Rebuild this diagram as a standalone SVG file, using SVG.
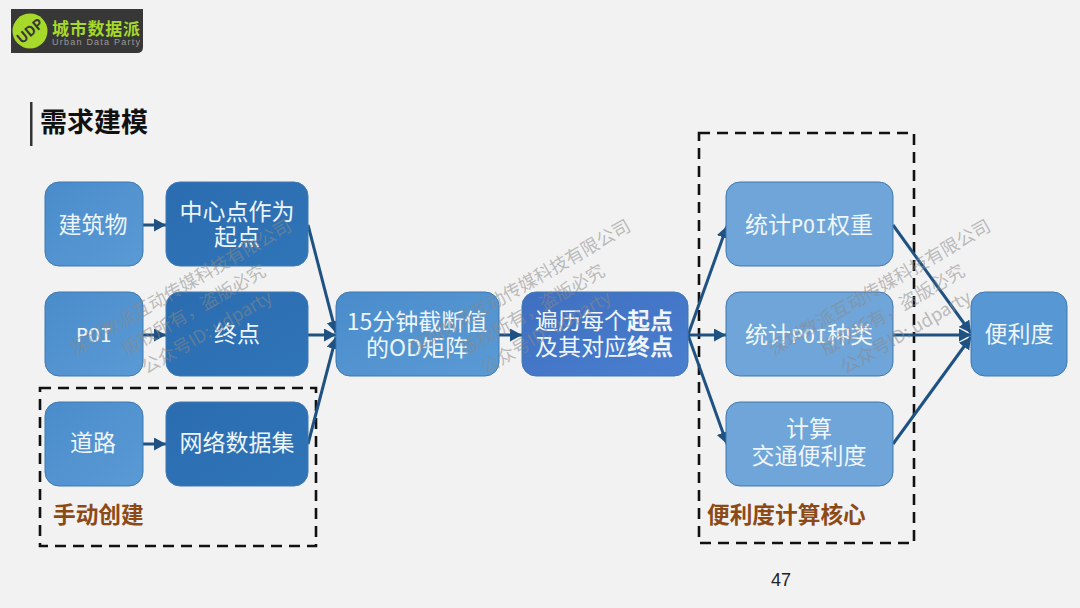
<svg xmlns="http://www.w3.org/2000/svg" width="1080" height="608" viewBox="0 0 1080 608">
<defs>
<linearGradient id="mid" x1="0" y1="0" x2="1" y2="1"><stop offset="0" stop-color="#4a8ccb"/><stop offset="1" stop-color="#5a9ad5"/></linearGradient>
<linearGradient id="dark" x1="0" y1="0" x2="1" y2="1"><stop offset="0" stop-color="#2b6cb0"/><stop offset="1" stop-color="#2f75b7"/></linearGradient>
<linearGradient id="royal" x1="0" y1="0" x2="1" y2="1"><stop offset="0" stop-color="#3f6fc0"/><stop offset="1" stop-color="#4a7fcf"/></linearGradient>
<marker id="arr" markerUnits="userSpaceOnUse" markerWidth="14" markerHeight="14" refX="12" refY="6.5" orient="auto"><path d="M0 0L12 6.5L0 13z" fill="#1f5282"/></marker>
<g id="wm" class="wm">
<text x="0" y="-20">深圳数派互动传媒科技有限公司</text>
<text x="0" y="6">版权所有，盗版必究</text>
<text x="0" y="32">公众号ID: udparty</text>
</g>
</defs>
<style>
text{font-family:"Noto Sans CJK SC","Liberation Sans",sans-serif}
.n{stroke:#3f79b0;stroke-width:1}
.t{fill:#eef5fb;font-size:23px;text-anchor:middle}
.m{font-family:"DejaVu Sans Mono","Noto Sans CJK SC",monospace}
.b{font-weight:700}
.c{fill:none;stroke:#1f5282;stroke-width:3;marker-end:url(#arr)}
.d{fill:none;stroke:#111;stroke-width:2.6;stroke-dasharray:11 7}
.o{fill:#8c4a17;font-size:22.700px;font-weight:700}
.wm text{fill:#8a8a8a;fill-opacity:.55;font-size:18px;text-anchor:middle}
</style>
<rect width="1080" height="608" fill="#f2f2f2"/>
<g id="logo">
<path d="M11 9H143V47Q143 53 137 53H11z" fill="#373737"/>
<circle cx="30" cy="31" r="17.500" fill="#a6d92a"/>
<text x="30" y="36" font-size="14" font-weight="700" text-anchor="middle" fill="#373737" transform="rotate(-40 30 31)">UDP</text>
<text x="52" y="35" font-size="17" font-weight="700" fill="#a6d92a" textLength="88" lengthAdjust="spacing">城市数据派</text>
<text x="52" y="45" font-size="9" fill="#9a9a9a" textLength="88" style="font-family:'Liberation Sans',sans-serif">Urban Data Party</text>
</g>
<g id="title">
<rect x="30" y="102" width="2.500" height="44" fill="#333"/>
<text x="40" y="132" font-size="27" font-weight="700" fill="#111">需求建模</text>
</g>
<g id="frames">
<rect class="d" x="40" y="388" width="276" height="158"/>
<rect class="d" x="699" y="133" width="215" height="410"/>
</g>
<g id="connectors">
<path class="c" d="M143 225H166"/>
<path class="c" d="M143 335H166"/>
<path class="c" d="M143 444H166"/>
<path class="c" d="M308 225L336 333"/>
<path class="c" d="M308 335H336"/>
<path class="c" d="M308 444L336 337"/>
<path class="c" d="M499 335H522"/>
<path class="c" d="M688 335L727 226"/>
<path class="c" d="M688 335H726"/>
<path class="c" d="M688 335L727 444"/>
<path class="c" d="M893 225L971 333"/>
<path class="c" d="M893 335H971"/>
<path class="c" d="M893 444L971 337"/>
</g>
<g id="n-building"><rect class="n" x="45" y="182" width="98" height="84" rx="14" fill="url(#mid)"/><text class="t" x="93" y="233">建筑物</text></g>
<g id="n-center"><rect class="n" x="166" y="182" width="142" height="84" rx="14" fill="url(#dark)"/><text class="t" x="237" y="220">中心点作为</text><text class="t" x="237" y="245">起点</text></g>
<g id="n-poi"><rect class="n" x="45" y="292" width="98" height="84" rx="14" fill="url(#mid)"/><text class="t m" x="94" y="342" style="font-size:20px">POI</text></g>
<g id="n-end"><rect class="n" x="166" y="292" width="142" height="84" rx="14" fill="url(#dark)"/><text class="t" x="237" y="342">终点</text></g>
<g id="n-road"><rect class="n" x="45" y="402" width="98" height="84" rx="14" fill="url(#mid)"/><text class="t" x="93" y="451">道路</text></g>
<g id="n-network"><rect class="n" x="166" y="402" width="142" height="84" rx="14" fill="url(#dark)"/><text class="t" x="237" y="451">网络数据集</text></g>
<g id="n-od"><rect class="n" x="336" y="292" width="163" height="84" rx="14" fill="url(#mid)"/><text class="t" x="417" y="330">15分钟截断值</text><text class="t" x="417" y="356">的OD矩阵</text></g>
<g id="n-traverse"><rect class="n" x="522" y="292" width="166" height="84" rx="14" fill="url(#royal)"/><text class="t" x="604" y="329">遍历每个<tspan class="b">起点</tspan></text><text class="t" x="604" y="355">及其对应<tspan class="b">终点</tspan></text></g>
<g id="n-weight"><rect class="n" x="726" y="182" width="167" height="84" rx="14" fill="#6fa5d8"/><text class="t" x="809" y="233">统计<tspan class="m" style="font-size:20px">POI</tspan>权重</text></g>
<g id="n-kind"><rect class="n" x="726" y="292" width="167" height="84" rx="14" fill="#6fa5d8"/><text class="t" x="809" y="343">统计<tspan class="m" style="font-size:20px">POI</tspan>种类</text></g>
<g id="n-calc"><rect class="n" x="726" y="402" width="167" height="84" rx="14" fill="#6fa5d8"/><text class="t" x="809" y="437">计算</text><text class="t" x="809" y="464">交通便利度</text></g>
<g id="n-result"><rect class="n" x="971" y="292" width="96" height="84" rx="14" fill="#5797d3"/><text class="t" x="1019" y="342">便利度</text></g>
<text class="o" x="53" y="523">手动创建</text>
<text class="o" x="707" y="523">便利度计算核心</text>
<text x="781" y="586" font-size="18" text-anchor="middle" fill="#222" style="font-family:'Liberation Sans',sans-serif">47</text>
<use href="#wm" transform="translate(194 310) rotate(-30)"/>
<use href="#wm" transform="translate(533 310) rotate(-30)"/>
<use href="#wm" transform="translate(893 310) rotate(-30)"/>
</svg>
